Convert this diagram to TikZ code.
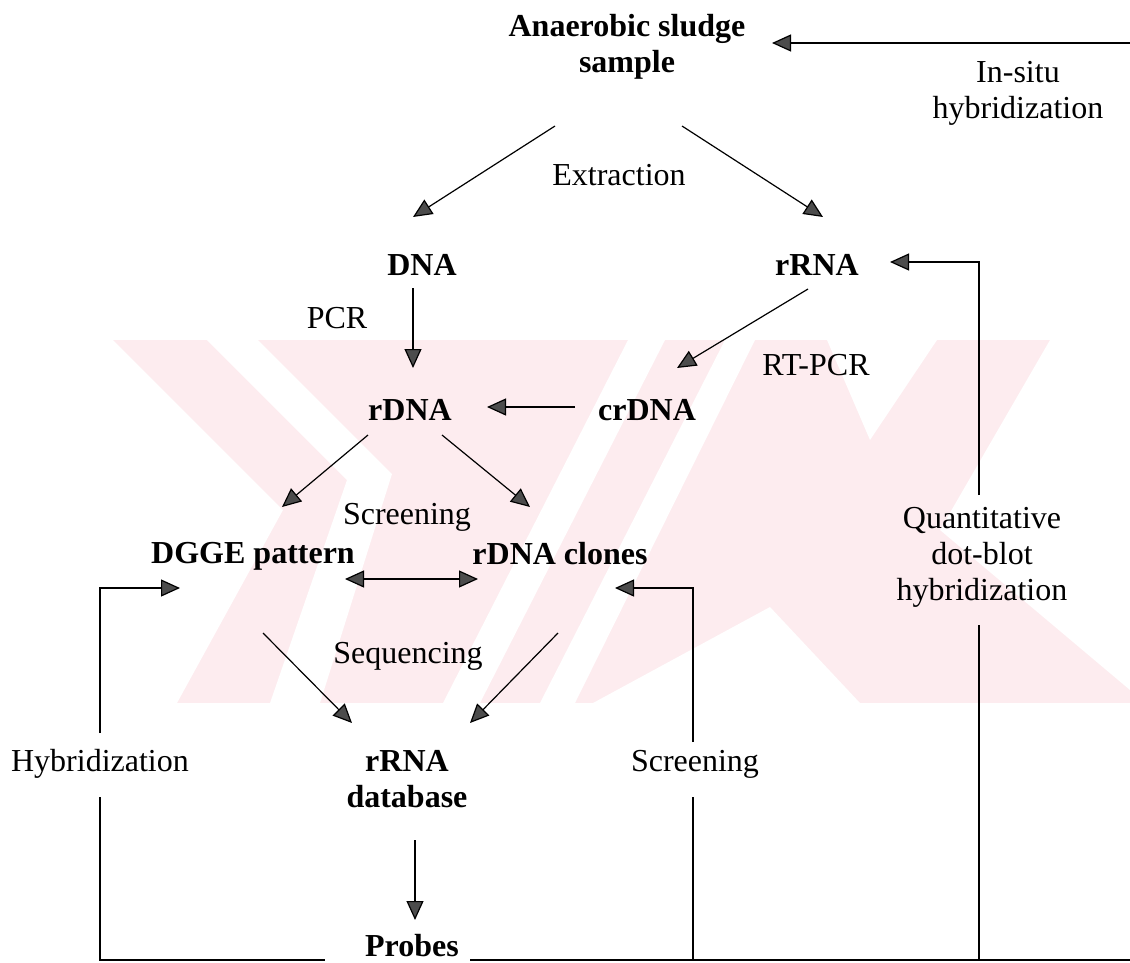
\documentclass[tikz,border=0pt]{standalone}
\usepackage{fontspec}
\setmainfont{Liberation Serif}
\usetikzlibrary{arrows.meta}
\definecolor{wm}{RGB}{253,236,239}
\begin{document}
\begin{tikzpicture}[x=1pt,y=-1pt,
  lbl/.style={font=\fontsize{32}{36}\selectfont, inner sep=0pt, align=center},
  bnode/.style={font=\fontsize{32}{36}\selectfont\bfseries, inner sep=0pt, align=center},
  conn/.style={line width=1.2pt, black},
  arr/.style={conn, -{Triangle[length=19pt,width=17pt,fill=black!70]}},
  darr/.style={conn, {Triangle[length=19pt,width=17pt,fill=black!70]}-{Triangle[length=19pt,width=17pt,fill=black!70]}},
]
\useasboundingbox (0,0) rectangle (1130,962);
% watermark
\begin{scope}
\clip (0,340) rectangle (1130,703);
\fill[wm] (113,340) rectangle (1130,703);
\fill[white] (0,340) -- (113,340) -- (283,510) -- (177,703) -- (0,703) -- cycle;
\fill[white] (207,340) -- (258,340) -- (392,474) -- (320,703) -- (270,703) -- (347,480) -- cycle;
\fill[white] (628,340) -- (665,340) -- (480,703) -- (443,703) -- cycle;
\fill[white] (725,340) -- (755,340) -- (575,703) -- (540,703) -- cycle;
\fill[white] (827,340) -- (937,340) -- (870,440) -- cycle;
\fill[white] (593,703) -- (770,607) -- (860,703) -- cycle;
\fill[white] (1050,340) -- (1130,340) -- (1130,690) -- (940,530) -- cycle;
\end{scope}

% nodes
\node[bnode] (sample) at (627,47) {Anaerobic sludge\\sample};
\node[lbl] (insitu) at (1018,93) {In-situ\\hybridization};
\node[lbl, anchor=base] (extr) at (619,185) {Extraction};
\node[bnode, anchor=base] (dna) at (422,275) {DNA};
\node[bnode, anchor=base] (rrna) at (817,275) {rRNA};
\node[lbl, anchor=base] (pcr) at (337,328) {PCR};
\node[lbl, anchor=base] (rtpcr) at (816,375) {RT-PCR};
\node[bnode, anchor=base] (rdna) at (410,420) {rDNA};
\node[bnode, anchor=base] (crdna) at (647,420) {crDNA};
\node[lbl, anchor=base] (scr1) at (407,524) {Screening};
\node[bnode, anchor=base] (dgge) at (253,563) {DGGE pattern};
\node[bnode, anchor=base] (clones) at (560,564) {rDNA clones};
\node[lbl] (quant) at (982,557) {Quantitative\\dot-blot\\hybridization};
\node[lbl, anchor=base] (seq) at (408,663) {Sequencing};
\node[bnode] (db) at (407,779) {rRNA\\database};
\node[lbl, anchor=base] (hyb) at (100,771) {Hybridization};
\node[lbl, anchor=base] (scr2) at (695,771) {Screening};
\node[bnode, anchor=base, text depth=0pt] (probes) at (412,956) {Probes};

% connector end points
\coordinate (edgeTop) at (1130,43);
\coordinate (sampleT) at (772,43);
\coordinate (s1) at (555,126);   \coordinate (dnaT) at (413,217);
\coordinate (s2) at (682,126);   \coordinate (rrnaT) at (823,217);
\coordinate (dnaB) at (413,288); \coordinate (rdnaT) at (413,368);
\coordinate (rrnaB) at (808,289); \coordinate (crdnaT) at (677,368);
\coordinate (crdnaL) at (575,407); \coordinate (rdnaR) at (487,407);
\coordinate (rdnaBL) at (368,435); \coordinate (dggeT) at (282,507);
\coordinate (rdnaBR) at (442,435); \coordinate (clonesT) at (530,507);
\coordinate (dggeR) at (345,579); \coordinate (clonesL) at (478,579);
\coordinate (dggeB) at (263,633); \coordinate (dbTL) at (352,723);
\coordinate (clonesB) at (558,633); \coordinate (dbTR) at (470,723);
\coordinate (dbB) at (415,840); \coordinate (probesT) at (415,920);
\coordinate (qTop) at (979,495); \coordinate (qBot) at (979,625);
\coordinate (qCorner) at (979,262); \coordinate (rrnaR) at (890,262);
\coordinate (qFoot) at (979,960);
\coordinate (hTop) at (100,733); \coordinate (hBot) at (100,797);
\coordinate (hCorner) at (100,588); \coordinate (dggeL) at (180,588);
\coordinate (hFoot) at (100,960);
\coordinate (scTop) at (693,742); \coordinate (scBot) at (693,797);
\coordinate (scCorner) at (693,588); \coordinate (clonesR) at (615,588);
\coordinate (scFoot) at (693,960);
\coordinate (probesL) at (325,960); \coordinate (probesR) at (470,960);
\coordinate (edgeBot) at (1130,960);

% connectors
\draw[arr] (edgeTop) -- (sampleT);
\draw[arr] (s1) -- (dnaT);
\draw[arr] (s2) -- (rrnaT);
\draw[arr] (dnaB) -- (rdnaT);
\draw[arr] (rrnaB) -- (crdnaT);
\draw[arr] (crdnaL) -- (rdnaR);
\draw[arr] (rdnaBL) -- (dggeT);
\draw[arr] (rdnaBR) -- (clonesT);
\draw[darr] (dggeR) -- (clonesL);
\draw[arr] (dggeB) -- (dbTL);
\draw[arr] (clonesB) -- (dbTR);
\draw[arr] (dbB) -- (probesT);
\draw[arr] (qTop) -- (qCorner) -- (rrnaR);
\draw[conn] (qBot) -- (qFoot);
\draw[arr] (hTop) -- (hCorner) -- (dggeL);
\draw[conn] (hBot) -- (hFoot) -- (probesL);
\draw[arr] (scTop) -- (scCorner) -- (clonesR);
\draw[conn] (scBot) -- (scFoot);
\draw[conn] (probesR) -- (edgeBot);
\end{tikzpicture}
\end{document}
